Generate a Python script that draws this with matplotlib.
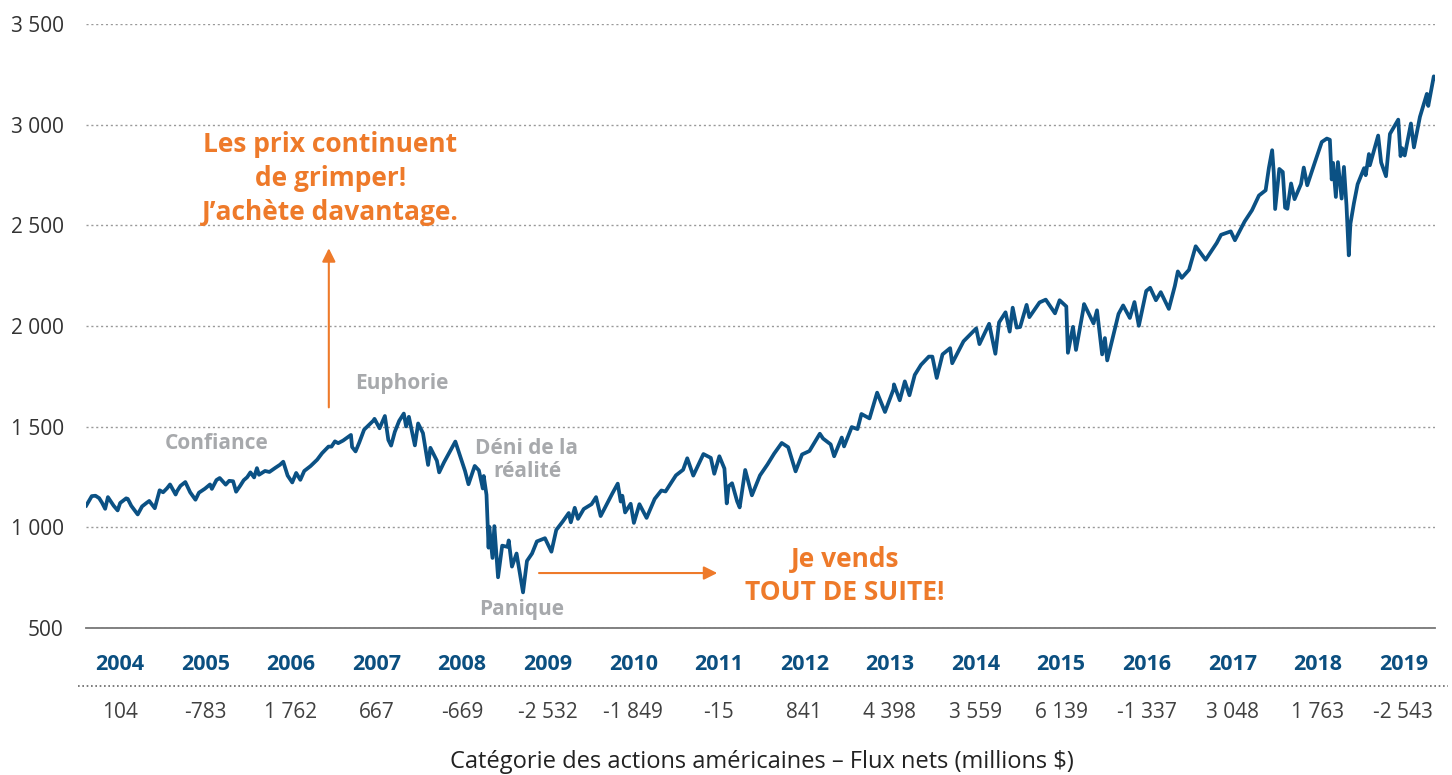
import numpy as np
import pandas as pd
import matplotlib
matplotlib.use("Agg")
import matplotlib.pyplot as plt
from matplotlib.lines import Line2D
from matplotlib.ticker import FuncFormatter
import matplotlib.transforms as mtransforms

plt.rcParams['font.family'] = ['Open Sans', 'DejaVu Sans']

# S&P 500 level (dates / closes)
dates = [
    "2004-01-02", "2004-01-26", "2004-02-11", "2004-02-27", "2004-03-10", "2004-03-24", "2004-04-05", "2004-04-30",
    "2004-05-17", "2004-05-28", "2004-06-23", "2004-06-30", "2004-07-15", "2004-08-12", "2004-08-31", "2004-09-20",
    "2004-10-01", "2004-10-25", "2004-11-15", "2004-11-30", "2004-12-17", "2004-12-30",
    "2005-01-24", "2005-01-31", "2005-02-14", "2005-03-07", "2005-03-28", "2005-04-20", "2005-05-05", "2005-05-31",
    "2005-06-22", "2005-06-30", "2005-07-20", "2005-08-03", "2005-08-29", "2005-09-13", "2005-09-30", "2005-10-13",
    "2005-10-31", "2005-11-15", "2005-11-30", "2005-12-14", "2005-12-30",
    "2006-01-11", "2006-01-20", "2006-02-15", "2006-03-06", "2006-03-31", "2006-04-21", "2006-05-05", "2006-05-24",
    "2006-06-13", "2006-06-30", "2006-07-18", "2006-08-04", "2006-08-31", "2006-09-29", "2006-10-20", "2006-11-17",
    "2006-11-30", "2006-12-15", "2006-12-29",
    "2007-01-19", "2007-02-22", "2007-02-27", "2007-03-14", "2007-03-30", "2007-04-20", "2007-05-31", "2007-06-04",
    "2007-06-26", "2007-07-19", "2007-08-03", "2007-08-15", "2007-08-31", "2007-09-19", "2007-10-09", "2007-10-19",
    "2007-10-31", "2007-11-26", "2007-12-10", "2007-12-31",
    "2008-01-22", "2008-02-01", "2008-02-29", "2008-03-10", "2008-03-31", "2008-04-30", "2008-05-19", "2008-06-30",
    "2008-07-15", "2008-08-11", "2008-08-29", "2008-09-15", "2008-09-19", "2008-10-01", "2008-10-10", "2008-10-13",
    "2008-10-27", "2008-11-04", "2008-11-20", "2008-12-08", "2008-12-31",
    "2009-01-06", "2009-01-20", "2009-02-09", "2009-03-09", "2009-03-26", "2009-04-17", "2009-05-08", "2009-06-12",
    "2009-07-10", "2009-07-31", "2009-08-28", "2009-09-23", "2009-10-02", "2009-10-19", "2009-11-02", "2009-11-27",
    "2009-12-31",
    "2010-01-19", "2010-02-08", "2010-03-31", "2010-04-23", "2010-05-06", "2010-05-13", "2010-05-25", "2010-06-18",
    "2010-07-02", "2010-07-26", "2010-08-26", "2010-09-30", "2010-10-29", "2010-11-16", "2010-12-31",
    "2011-01-31", "2011-02-18", "2011-03-16", "2011-04-29", "2011-05-31", "2011-06-15", "2011-07-07", "2011-07-29",
    "2011-08-08", "2011-08-16", "2011-08-31", "2011-09-22", "2011-10-03", "2011-10-27", "2011-11-25", "2011-12-30",
    "2012-01-31", "2012-02-29", "2012-04-02", "2012-04-30", "2012-06-01", "2012-06-29", "2012-07-31", "2012-09-14",
    "2012-09-28", "2012-10-31", "2012-11-15", "2012-12-18", "2012-12-28",
    "2013-01-31", "2013-02-25", "2013-03-14", "2013-04-18", "2013-05-21", "2013-06-24", "2013-07-31", "2013-08-02",
    "2013-08-27", "2013-09-18", "2013-10-08", "2013-10-31", "2013-11-27", "2013-12-31",
    "2014-01-15", "2014-02-03", "2014-02-28", "2014-04-02", "2014-04-11", "2014-05-30", "2014-06-30", "2014-07-24",
    "2014-08-07", "2014-09-18", "2014-10-15", "2014-10-31", "2014-11-28", "2014-12-16", "2014-12-29",
    "2015-01-15", "2015-01-30", "2015-02-27", "2015-03-11", "2015-04-24", "2015-05-21", "2015-06-30", "2015-07-20",
    "2015-08-18", "2015-08-25", "2015-09-16", "2015-09-29", "2015-10-30", "2015-11-03", "2015-12-14", "2015-12-29",
    "2016-01-20", "2016-02-01", "2016-02-11", "2016-03-31", "2016-04-20", "2016-05-19", "2016-06-08", "2016-06-27",
    "2016-07-29", "2016-08-15", "2016-09-09", "2016-09-30", "2016-11-04", "2016-11-30", "2016-12-13", "2016-12-30",
    "2017-01-31", "2017-03-01", "2017-04-13", "2017-05-31", "2017-06-19", "2017-07-31", "2017-08-18", "2017-09-29",
    "2017-10-31", "2017-11-30", "2017-12-29",
    "2018-01-12", "2018-01-26", "2018-02-02", "2018-02-08", "2018-02-26", "2018-03-13", "2018-03-23", "2018-04-02",
    "2018-04-18", "2018-05-03", "2018-05-31", "2018-06-12", "2018-06-27", "2018-07-31", "2018-08-29", "2018-09-20",
    "2018-10-03", "2018-10-11", "2018-10-17", "2018-10-29", "2018-11-07", "2018-11-23", "2018-12-03", "2018-12-14",
    "2018-12-24", "2018-12-31",
    "2019-01-15", "2019-01-31", "2019-02-28", "2019-03-07", "2019-03-21", "2019-03-25", "2019-04-30", "2019-05-13",
    "2019-06-03", "2019-06-20", "2019-07-26", "2019-08-05", "2019-08-12", "2019-08-23", "2019-09-19", "2019-10-02",
    "2019-10-28", "2019-11-27", "2019-12-03", "2019-12-27", "2019-12-31",
]
sp500 = [
    1108, 1155, 1157, 1145, 1123, 1092, 1150, 1107, 1084, 1121, 1144, 1141, 1107, 1064, 1104, 1122,
    1131, 1095, 1184, 1174, 1194, 1213,
    1163, 1181, 1206, 1225, 1174, 1137, 1172, 1192, 1213, 1191, 1235, 1245, 1212, 1231, 1229, 1177,
    1207, 1234, 1249, 1273, 1248,
    1294, 1261, 1280, 1275, 1295, 1311, 1326, 1257, 1223, 1270, 1236, 1280, 1304, 1336, 1368, 1401,
    1401, 1427, 1418,
    1431, 1459, 1399, 1377, 1421, 1485, 1531, 1539, 1492, 1553, 1434, 1406, 1474, 1529, 1565, 1501,
    1549, 1407, 1516, 1468,
    1310, 1395, 1331, 1273, 1323, 1386, 1426, 1280, 1214, 1305, 1283, 1193, 1255, 1161, 899, 1003,
    848, 1006, 752, 909, 903,
    935, 805, 870, 677, 833, 870, 930, 946, 879, 987, 1029, 1071, 1025, 1097, 1042, 1091,
    1115,
    1150, 1056, 1169, 1217, 1128, 1157, 1074, 1117, 1022, 1115, 1047, 1141, 1183, 1178, 1258,
    1286, 1343, 1257, 1364, 1345, 1266, 1353, 1292, 1119, 1204, 1219, 1129, 1099, 1285, 1159, 1258,
    1312, 1366, 1419, 1398, 1278, 1362, 1379, 1465, 1441, 1412, 1353, 1446, 1402,
    1498, 1488, 1563, 1541, 1669, 1573, 1686, 1710, 1631, 1725, 1656, 1757, 1807, 1848,
    1848, 1742, 1859, 1890, 1815, 1924, 1960, 1988, 1910, 2011, 1862, 2018, 2068, 1972, 2091,
    1992, 1995, 2105, 2044, 2117, 2131, 2063, 2128, 2097, 1867, 1996, 1881, 2079, 2109, 2013, 2078,
    1859, 1940, 1829, 2060, 2102, 2040, 2119, 2001, 2174, 2190, 2128, 2168, 2085, 2199, 2271, 2239,
    2279, 2396, 2329, 2412, 2453, 2470, 2426, 2519, 2575, 2648, 2674,
    2786, 2873, 2762, 2581, 2780, 2765, 2588, 2582, 2708, 2630, 2705, 2787, 2699, 2816, 2914, 2931,
    2925, 2728, 2810, 2641, 2814, 2633, 2790, 2600, 2351, 2507,
    2610, 2704, 2784, 2749, 2854, 2798, 2946, 2812, 2744, 2954, 3025, 2844, 2883, 2847, 3006, 2887,
    3039, 3153, 3093, 3240, 3231,
]

years = list(range(2004, 2020))
net_flows = ["104", "-783", "1 762", "667", "-669", "-2 532", "-1 849", "-15",
             "841", "4 398", "3 559", "6 139", "-1 337", "3 048", "1 763", "-2 543"]

BLUE = "#0b5184"
ORANGE = "#ee7a2a"
GREY = "#a7a9ac"

# decimal years
dt = pd.to_datetime(dates)
xdec = dt.year + (dt.dayofyear - 1) / 365.25

fig = plt.figure(figsize=(14.52, 7.75), dpi=100)
ax = fig.add_axes([86 / 1452, 1 - 628 / 775, 1349 / 1452, 604 / 775])

ax.plot(xdec, sp500, color=BLUE, lw=2.7, solid_joinstyle='round')

ax.set_xlim(2004, 2020)
ax.set_ylim(500, 3500)
ax.set_yticks(np.arange(500, 3501, 500))
ax.yaxis.set_major_formatter(FuncFormatter(lambda v, p: f"{int(v):,}".replace(",", " ")))
ax.tick_params(axis='y', length=0, pad=16, labelsize=15, labelcolor='#333333')
ax.set_xticks([])
for s in ['top', 'right', 'left']:
    ax.spines[s].set_visible(False)
ax.spines['bottom'].set_color('#777777')
ax.spines['bottom'].set_linewidth(1.3)
ax.grid(axis='y', linestyle=(0, (1.5, 2)), color='#999999', lw=1.0)
ax.set_axisbelow(True)

# annotations
ax.annotate("", xy=(2006.88, 2400), xytext=(2006.88, 1582),
            arrowprops=dict(arrowstyle='-|>', color=ORANGE, lw=1.5, mutation_scale=20))
ax.text(2006.9, 2734, "Les prix continuent\nde grimper!\nJ\u2019achète davantage.", color=ORANGE,
        fontsize=19, fontweight='bold', ha='center', va='center', linespacing=1.34)
ax.annotate("", xy=(2011.52, 773), xytext=(2009.34, 773),
            arrowprops=dict(arrowstyle='-|>', color=ORANGE, lw=1.5, mutation_scale=20))
ax.text(2013.0, 758, "Je vends\nTOUT DE SUITE!", color=ORANGE,
        fontsize=19, fontweight='bold', ha='center', va='center', linespacing=1.27)

grey_kw = dict(color=GREY, fontsize=15, fontweight='bold', ha='center', va='center')
ax.text(2005.55, 1414, "Confiance", **grey_kw)
ax.text(2007.75, 1712, "Euphorie", **grey_kw)
ax.text(2009.23, 1334, "Déni de la\nréalité", linespacing=1.15, **grey_kw)
ax.text(2009.17, 594, "Panique", **grey_kw)

# year labels and net flows below the chart
trans = mtransforms.blended_transform_factory(ax.transData, fig.transFigure)
for i, (yr, fl) in enumerate(zip(years, net_flows)):
    xc = 2004.4 + i * 1.015
    ax.text(xc, 1 - 665 / 775, str(yr), transform=trans, ha='center', va='center',
            fontsize=15.5, fontweight='bold', color='#0b4f80', clip_on=False)
    ax.text(xc, 1 - 712 / 775, fl, transform=trans, ha='center', va='center',
            fontsize=15, color='#404040', clip_on=False)

fig.add_artist(Line2D([78 / 1452, 1448 / 1452], [1 - 686 / 775] * 2, transform=fig.transFigure,
                      color='#666666', lw=1.2, linestyle=(0, (1, 1.6))))
fig.text(762 / 1452, 1 - 762 / 775, "Catégorie des actions américaines \u2013 Flux nets (millions $)",
         ha='center', va='center', fontsize=17, color='#222222')

fig.savefig("out.png", dpi=100)
